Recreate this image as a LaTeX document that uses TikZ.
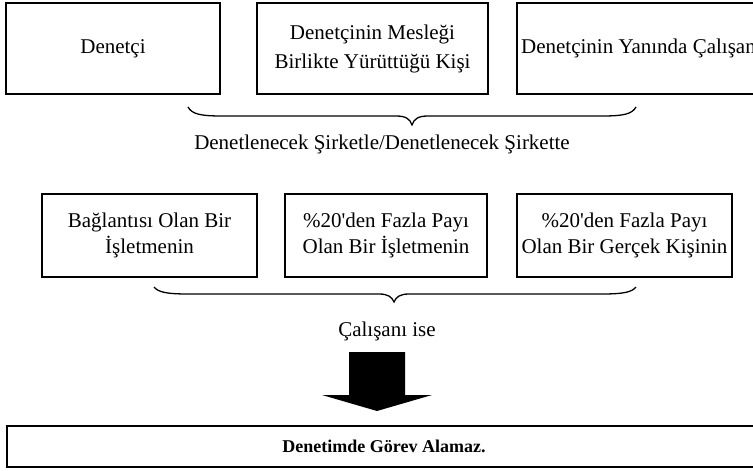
\documentclass[tikz,border=0pt]{standalone}
\usepackage{fontspec}
\setmainfont{Liberation Serif}[Ligatures=TeXOff]
\begin{document}
\begin{tikzpicture}[x=1pt,y=-1pt,
  box/.style={draw=black, line width=2.2pt, fill=white, align=center,
    inner sep=0pt, font=\fontsize{21}{29}\selectfont},
  midbox/.style={box, font=\fontsize{21}{26}\selectfont,
    minimum height=83pt},
  lbl/.style={font=\fontsize{21}{24}\selectfont, inner sep=0pt},
  bracepath/.style={draw=black, line width=1.3pt}]
\useasboundingbox (0,0) rectangle (753,471);

% top row of persons
\node[box, minimum width=214pt, minimum height=91pt] (denetci) at (113,48.5) {Denetçi};
\node[box, minimum width=231pt, minimum height=91pt] (meslek) at (372.5,48.5)
  {Denetçinin Mesleği\\Birlikte Yürüttüğü Kişi};
\node[box, anchor=west, minimum height=91pt, inner xsep=4pt] (yaninda) at (516,48.5)
  {Denetçinin Yanında Çalışan};

% upper brace
\coordinate (b1l) at (188,107);
\coordinate (b1t) at (412,125);
\coordinate (b1r) at (636,107);
\draw[bracepath] (b1l) .. controls (192,114) and (200,116) .. (222,116) -- (396,116)
  .. controls (406,116) and (410,119) .. (b1t)
  .. controls (414,119) and (418,116) .. (428,116) -- (602,116)
  .. controls (624,116) and (632,114) .. (b1r);
\node[lbl] (sirket) at (382,144) {Denetlenecek Şirketle/Denetlenecek Şirkette};

% middle row
\node[midbox, minimum width=215pt] (baglanti) at (149.5,235.5)
  {Bağlantısı Olan Bir\\İşletmenin};
\node[midbox, minimum width=202pt] (isletme) at (386,235.5)
  {\%20'den Fazla Payı\\Olan Bir İşletmenin};
\node[midbox, minimum width=215pt] (kisi) at (624.5,235.5)
  {\%20'den Fazla Payı\\Olan Bir Gerçek Kişinin};

% lower brace
\coordinate (b2l) at (154,287);
\coordinate (b2t) at (394,302);
\coordinate (b2r) at (636,287);
\draw[bracepath] (b2l) .. controls (158,292) and (166,294) .. (188,294) -- (379,294)
  .. controls (388,294) and (392,297) .. (b2t)
  .. controls (396,297) and (400,294) .. (409,294) -- (602,294)
  .. controls (624,294) and (632,292) .. (b2r);
\node[lbl] (calisani) at (387,331) {Çalışanı ise};

% block arrow
\coordinate (arrtop) at (377,352);
\fill[black] (arrtop) ++(-28,0) -- ++(56,0) -- ++(0,43) -- ++(27,0) -- ++(-55,16)
  -- ++(-55,-16) -- ++(27,0) -- cycle;

% result
\node[box, line width=2.4pt, minimum width=754pt, minimum height=41pt,
  font=\bfseries\fontsize{18}{20}\selectfont] (sonuc) at (384,446.5)
  {Denetimde Görev Alamaz.};
\end{tikzpicture}
\end{document}
